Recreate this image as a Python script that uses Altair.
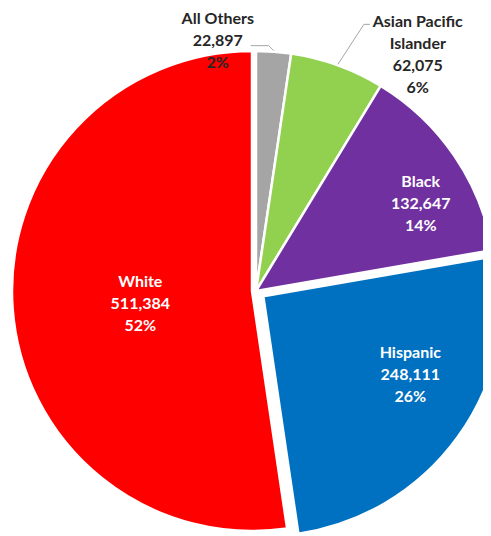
import altair as alt
import pandas as pd

categories = ["All Others", "Asian Pacific Islander", "Black", "Hispanic", "White"]
label_names = [["All Others"], ["Asian Pacific", "Islander"], ["Black"], ["Hispanic"], ["White"]]
values = [22897, 62075, 132647, 248111, 511384]
percent_labels = ["2%", "6%", "14%", "26%", "52%"]
colors = ["#A5A5A5", "#92D050", "#7030A0", "#0070C0", "#FF0000"]

df = pd.DataFrame({
    "category": categories,
    "value": values,
    "order": list(range(len(categories))),
})
df["label"] = [n + [f"{v:,}", p] for n, v, p in zip(label_names, values, percent_labels)]

W, H = 475, 528
CX, CY = 248, 283
R = 240
FONT = "Lato"
LH = 22

base = (
    alt.Chart(df)
    .transform_joinaggregate(total="sum(value)")
    .transform_window(cum="sum(value)", sort=[alt.SortField("order")])
    .transform_calculate(
        t0="2*PI*(datum.cum - datum.value)/datum.total",
        t1="2*PI*datum.cum/datum.total",
        tm="PI*(2*datum.cum - datum.value)/datum.total",
    )
)

color = alt.Color("category:N", scale=alt.Scale(domain=categories, range=colors), legend=None)


def arcs(filter_expr, x, y):
    return base.transform_filter(filter_expr).mark_arc(
        radius=R, stroke="white", strokeWidth=2.5, x=x, y=y
    ).encode(
        theta=alt.Theta("t0:Q", scale=None),
        theta2="t1:Q",
        color=color,
        order="order:Q",
    )


def label(cat, nlines, x, y, r, dx, dy, fill):
    return base.transform_filter(alt.datum.category == cat).mark_text(
        x=x, y=y, radius=r, dx=dx, dy=dy - (nlines - 1) * LH / 2, font=FONT, fontSize=16,
        fontWeight="bold", lineHeight=LH, align="center", baseline="middle", fill=fill,
    ).encode(
        theta=alt.Theta("tm:Q", scale=None),
        text="label",
    )


def leader(cat, r, bdx, bdy, cdx):
    b = base.transform_filter(alt.datum.category == cat).transform_calculate(
        ax=f"{CX} + {r}*sin(datum.tm)",
        ay=f"{CY} - {r}*cos(datum.tm)",
    ).transform_calculate(
        bx=f"datum.ax + {bdx}",
        by=f"datum.ay + {bdy}",
    ).transform_calculate(
        ex=f"datum.bx + {cdx}",
    )
    seg1 = b.mark_rule(color="#A6A6A6", strokeWidth=1).encode(
        x=alt.X("ax:Q", scale=None), y=alt.Y("ay:Q", scale=None),
        x2="bx:Q", y2="by:Q",
    )
    seg2 = b.mark_rule(color="#A6A6A6", strokeWidth=1).encode(
        x=alt.X("bx:Q", scale=None), y=alt.Y("by:Q", scale=None),
        x2="ex:Q", y2="by:Q",
    )
    return seg1 + seg2


hx, hy = CX + 7.3, CY + 5.3
wx, wy = CX - 4, CY

chart = alt.layer(
    arcs("datum.category != 'Hispanic' && datum.category != 'White'", CX, CY),
    arcs("datum.category == 'Hispanic'", hx, hy),
    arcs("datum.category == 'White'", wx, wy),
    leader("All Others", 241, -5, -5, -18),
    leader("Asian Pacific Islander", 241, 26, -40, 6),
    label("All Others", 3, CX, CY, 255, -57, 4, "#262626"),
    label("Asian Pacific Islander", 4, CX, CY, 270, 70, 18, "#262626"),
    label("Black", 3, CX, CY, 186, 11, 18, "white"),
    label("Hispanic", 3, hx, hy, 166, 12.5, -19, "white"),
    label("White", 3, wx, wy, 112, 0, 5, "white"),
).properties(
    width=W, height=H, autosize=alt.AutoSizeParams(type="none"), padding=0,
    background="white",
).configure_view(stroke=None)

chart.save("out.html", embed_options={"renderer": "svg", "actions": False})
